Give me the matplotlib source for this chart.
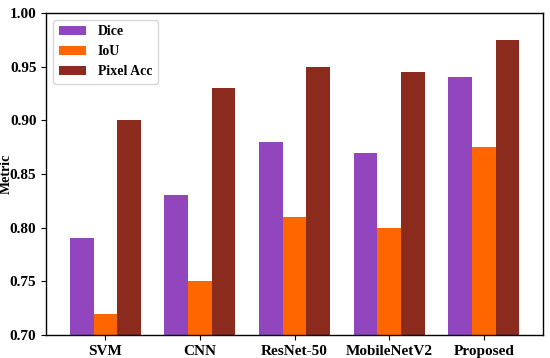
import numpy as np
import matplotlib
matplotlib.use("Agg")
import matplotlib.pyplot as plt

models = ["SVM", "CNN", "ResNet-50", "MobileNetV2", "Proposed"]
dice = [0.79, 0.83, 0.88, 0.87, 0.94]
iou = [0.72, 0.75, 0.81, 0.80, 0.875]
pixel_acc = [0.90, 0.93, 0.95, 0.945, 0.975]

plt.rcParams['font.family'] = ['Liberation Serif', 'DejaVu Serif']
plt.rcParams['font.weight'] = 'bold'

fig = plt.figure(figsize=(5.5, 3.58), dpi=100)
ax = fig.add_axes([0.084, 0.064, 0.903, 0.9])

x = np.arange(len(models))
w = 0.25
ax.bar(x - w, dice, w, color='#9146BE', label='Dice')
ax.bar(x, iou, w, color='#FF6600', label='IoU')
ax.bar(x + w, pixel_acc, w, color='#8A2B1D', label='Pixel Acc')

ax.set_ylim(0.70, 1.00)
ax.set_xlim(-0.625, 4.625)
ax.set_xticks(x)
ax.set_xticklabels(models, fontsize=11, fontweight='bold')
ax.set_yticks([0.70, 0.75, 0.80, 0.85, 0.90, 0.95, 1.00])
ax.set_yticklabels(['%.2f' % v for v in ax.get_yticks()], fontsize=11, fontweight='bold')
ax.set_ylabel('Metric', fontsize=10, fontweight='bold')
ax.yaxis.set_label_coords(-0.068, 0.5)
for s in ax.spines.values():
    s.set_linewidth(1.0)

leg = ax.legend(loc='upper left', prop={'weight': 'bold', 'size': 10})

fig.savefig('out.png', dpi=100)
